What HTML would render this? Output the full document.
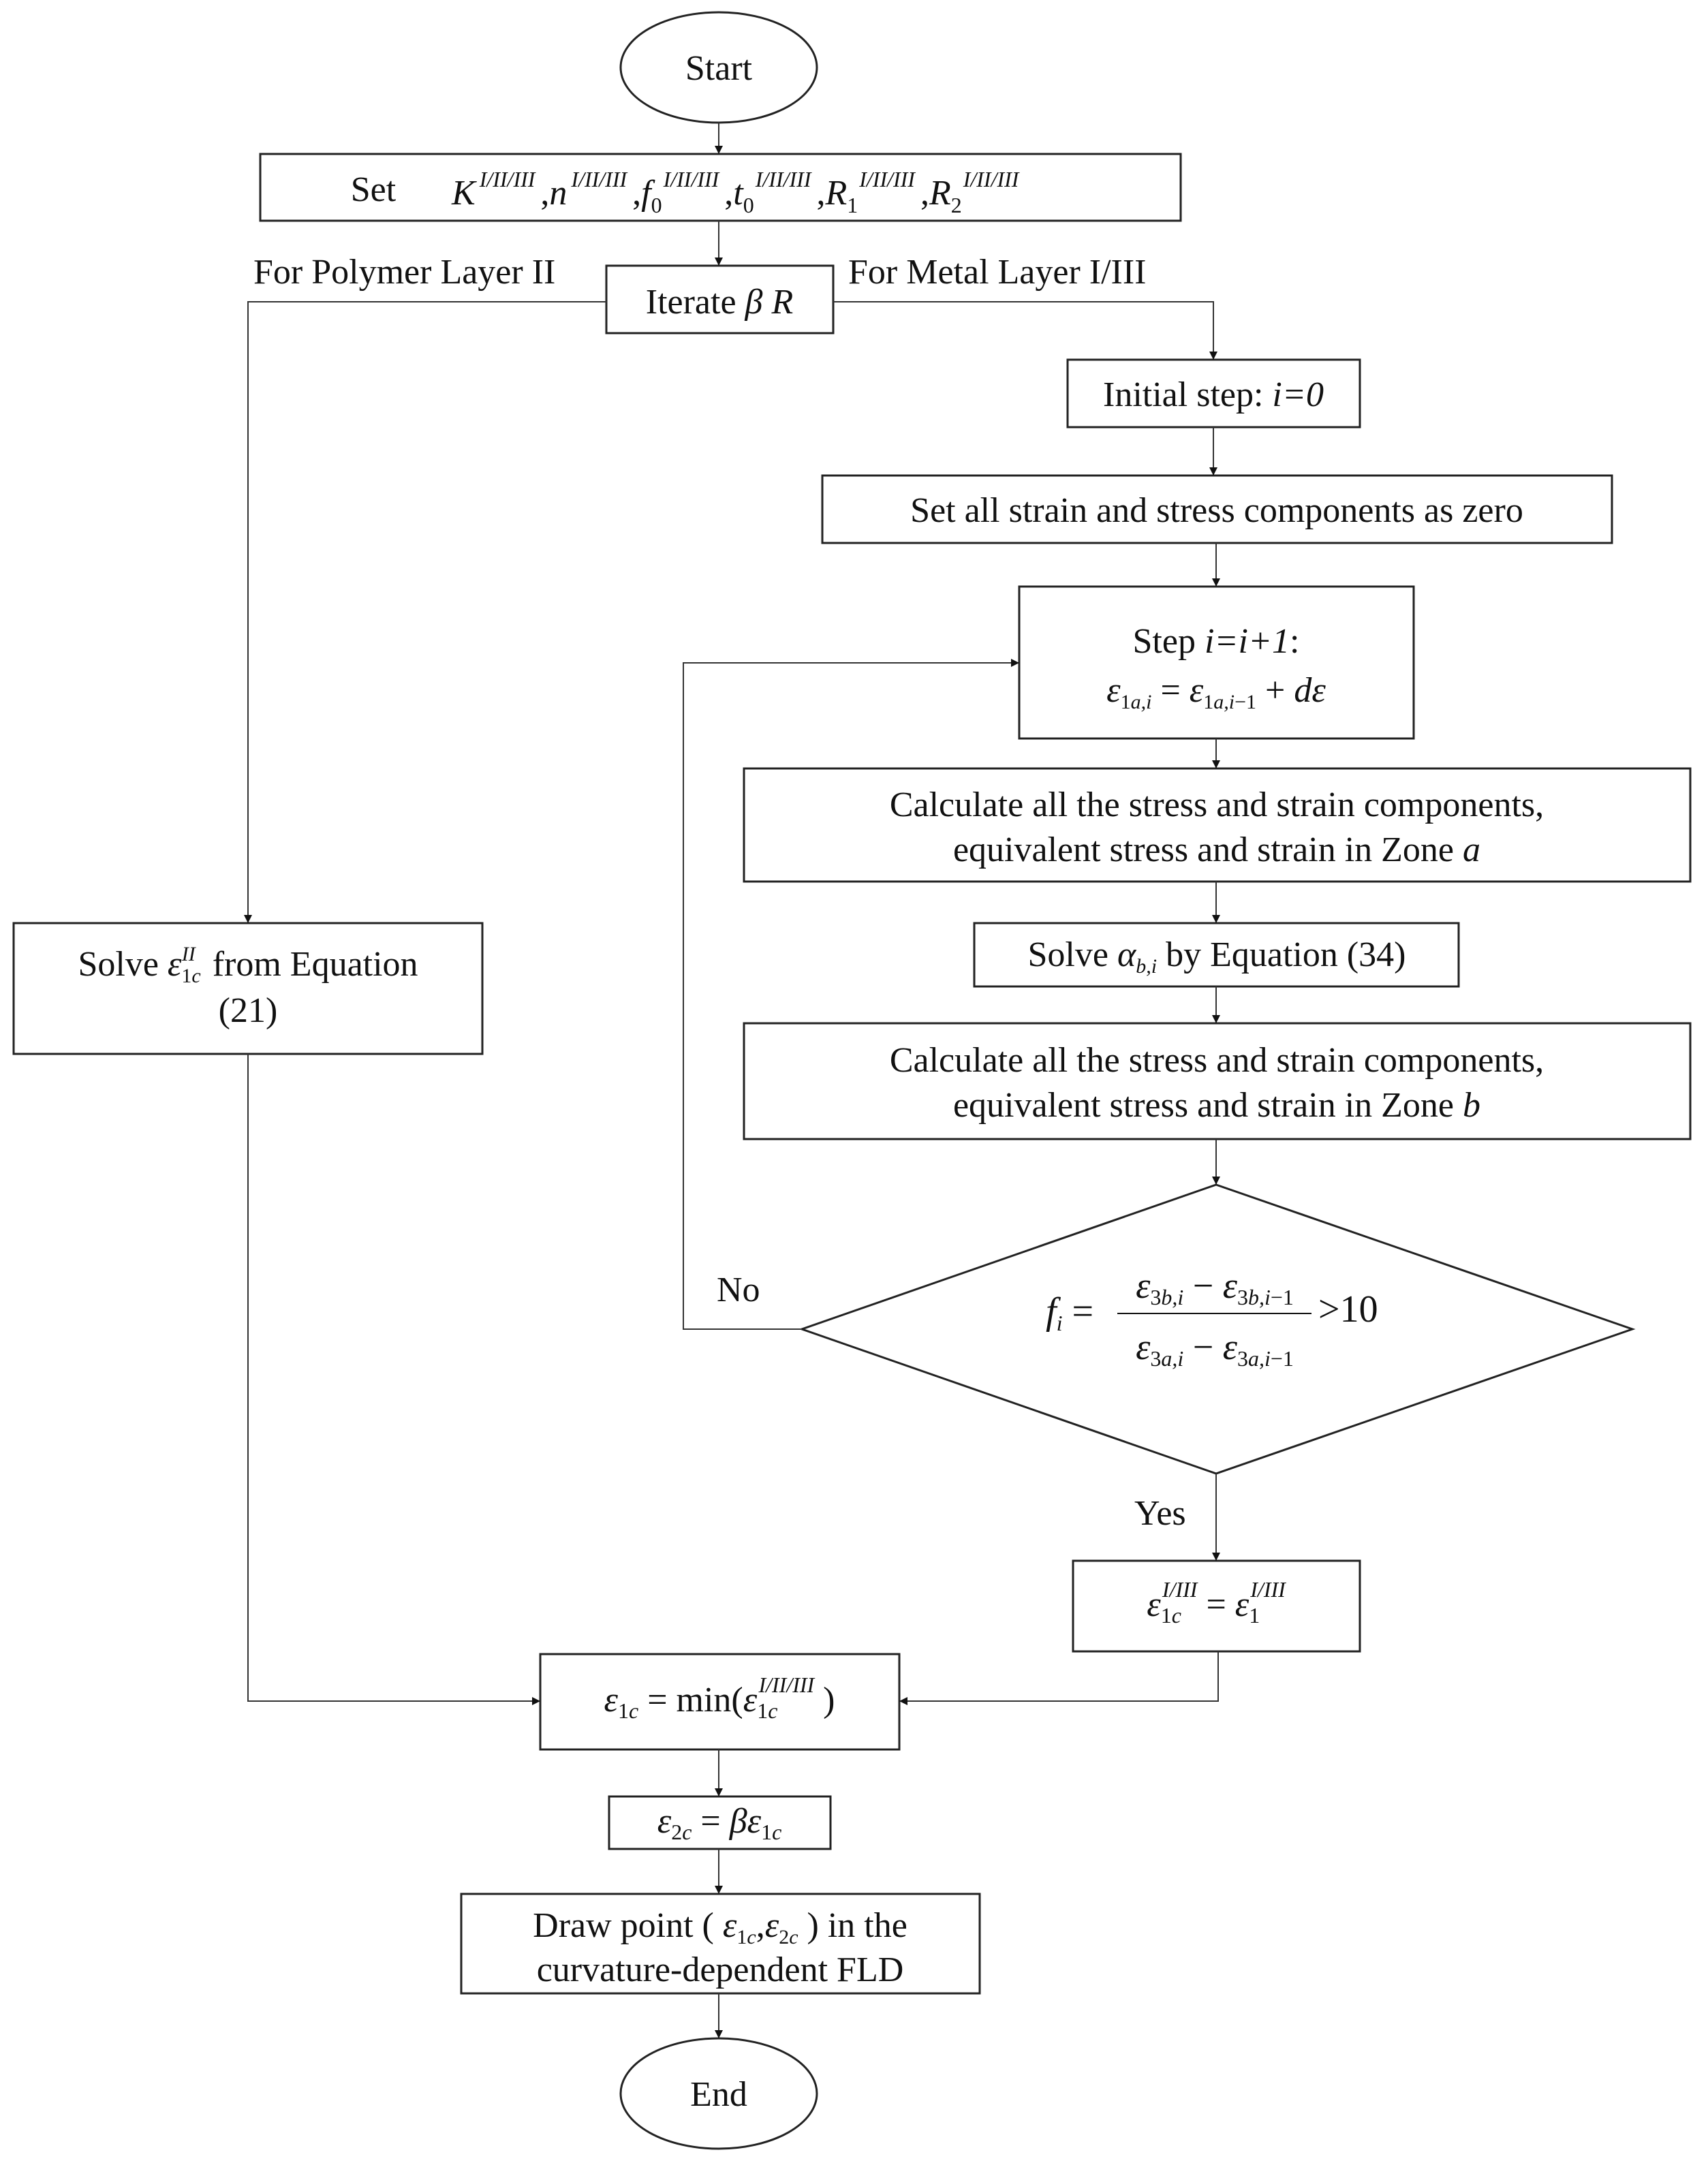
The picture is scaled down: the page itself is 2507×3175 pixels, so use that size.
<!DOCTYPE html>
<html><head><meta charset="utf-8"><style>
html,body{margin:0;padding:0;background:#fff}
svg{display:block}
text{font-family:"Liberation Serif",serif;fill:#111}
.t{font-size:52px}
.i{font-style:italic}
</style></head><body>
<svg width="2507" height="3175" viewBox="0 0 2507 3175" xmlns="http://www.w3.org/2000/svg">
<defs><marker id="a" markerWidth="12" markerHeight="12" refX="11" refY="6" orient="auto" markerUnits="userSpaceOnUse"><path d="M0,0 L12,6 L0,12 z" fill="#111"/></marker></defs>
<g fill="none" stroke="#222" stroke-width="3">
<ellipse cx="1055" cy="99" rx="144" ry="81"/>
<rect x="382" y="226" width="1351" height="98"/>
<rect x="890" y="390" width="333" height="99"/>
<rect x="1567" y="528" width="429" height="99"/>
<rect x="1207" y="698" width="1159" height="99"/>
<rect x="1496" y="861" width="579" height="223"/>
<rect x="1092" y="1128" width="1389" height="166"/>
<rect x="1430" y="1355" width="711" height="93"/>
<rect x="1092" y="1502" width="1389" height="170"/>
<polygon points="1785,1739 2396,1951 1785,2163 1177,1951"/>
<rect x="20" y="1355" width="688" height="192"/>
<rect x="1575" y="2291" width="421" height="133"/>
<rect x="793" y="2428" width="527" height="140"/>
<rect x="894" y="2637" width="325" height="77"/>
<rect x="677" y="2780" width="761" height="146"/>
<ellipse cx="1055" cy="3073" rx="144" ry="81"/>
</g>
<g fill="none" stroke="#333" stroke-width="2">
<line x1="1055" y1="180" x2="1055" y2="225" marker-end="url(#a)"/>
<line x1="1055" y1="324" x2="1055" y2="389" marker-end="url(#a)"/>
<polyline points="890,443 364,443 364,1354" marker-end="url(#a)"/>
<polyline points="1223,443 1781,443 1781,527" marker-end="url(#a)"/>
<line x1="1781" y1="627" x2="1781" y2="697" marker-end="url(#a)"/>
<line x1="1785" y1="797" x2="1785" y2="860" marker-end="url(#a)"/>
<line x1="1785" y1="1084" x2="1785" y2="1127" marker-end="url(#a)"/>
<line x1="1785" y1="1294" x2="1785" y2="1354" marker-end="url(#a)"/>
<line x1="1785" y1="1448" x2="1785" y2="1501" marker-end="url(#a)"/>
<line x1="1785" y1="1672" x2="1785" y2="1738" marker-end="url(#a)"/>
<polyline points="1177,1951 1003,1951 1003,973 1495,973" marker-end="url(#a)"/>
<line x1="1785" y1="2163" x2="1785" y2="2290" marker-end="url(#a)"/>
<polyline points="364,1547 364,2497 792,2497" marker-end="url(#a)"/>
<polyline points="1788,2424 1788,2497 1321,2497" marker-end="url(#a)"/>
<line x1="1055" y1="2568" x2="1055" y2="2636" marker-end="url(#a)"/>
<line x1="1055" y1="2714" x2="1055" y2="2779" marker-end="url(#a)"/>
<line x1="1055" y1="2926" x2="1055" y2="2991" marker-end="url(#a)"/>
</g>
<g class="t">
<text x="1055" y="117" text-anchor="middle">Start</text>
<text x="1055" y="3091" text-anchor="middle">End</text>
<text x="548" y="295" text-anchor="middle">Set</text>
<text x="663" y="300"><tspan class="i">K</tspan><tspan font-size="32" class="i" dx="6" dy="-26">I/II/III</tspan><tspan dx="8" dy="26">,</tspan><tspan class="i">n</tspan><tspan font-size="32" class="i" dx="6" dy="-26">I/II/III</tspan><tspan dx="8" dy="26">,</tspan><tspan class="i">f</tspan><tspan font-size="32" dy="12">0</tspan><tspan font-size="32" class="i" dx="2" dy="-38">I/II/III</tspan><tspan dx="8" dy="26">,</tspan><tspan class="i">t</tspan><tspan font-size="32" dy="12">0</tspan><tspan font-size="32" class="i" dx="2" dy="-38">I/II/III</tspan><tspan dx="8" dy="26">,</tspan><tspan class="i">R</tspan><tspan font-size="32" dy="12">1</tspan><tspan font-size="32" class="i" dx="2" dy="-38">I/II/III</tspan><tspan dx="8" dy="26">,</tspan><tspan class="i">R</tspan><tspan font-size="32" dy="12">2</tspan><tspan font-size="32" class="i" dx="2" dy="-38">I/II/III</tspan></text>
<text x="372" y="416">For Polymer Layer II</text>
<text x="1245" y="416">For Metal Layer I/III</text>
<text x="1056" y="460" text-anchor="middle">Iterate <tspan class="i">β  R</tspan></text>
<text x="1781" y="596" text-anchor="middle">Initial step: <tspan class="i">i=0</tspan></text>
<text x="1786" y="766" text-anchor="middle">Set all strain and stress components as zero</text>
<text x="1785" y="958" text-anchor="middle">Step <tspan class="i">i=i+1</tspan>:</text>
<text x="1785" y="1030" text-anchor="middle"><tspan class="i">ε</tspan><tspan font-size="30" dy="10">1<tspan class="i">a,i</tspan></tspan><tspan dy="-10"> = </tspan><tspan class="i">ε</tspan><tspan font-size="30" dy="10">1<tspan class="i">a,i</tspan>−1</tspan><tspan dy="-10"> + </tspan><tspan class="i">dε</tspan></text>
<text x="1786" y="1198" text-anchor="middle">Calculate all the stress and strain components,</text>
<text x="1786" y="1264" text-anchor="middle">equivalent stress and strain in Zone <tspan class="i">a</tspan></text>
<text x="1786" y="1418" text-anchor="middle">Solve   <tspan class="i">α</tspan><tspan font-size="30" class="i" dy="10">b,i</tspan><tspan dy="-10">  by Equation (34)</tspan></text>
<text x="1786" y="1573" text-anchor="middle">Calculate all the stress and strain components,</text>
<text x="1786" y="1639" text-anchor="middle">equivalent stress and strain in Zone <tspan class="i">b</tspan></text>
<text x="1052" y="1910">No</text>
<text x="1665" y="2238">Yes</text>
<text x="1535" y="1943" font-size="56"><tspan class="i">f</tspan><tspan font-size="32" class="i" dy="10">i</tspan><tspan dy="-10"> =</tspan></text>
<line x1="1640" y1="1928" x2="1925" y2="1928" stroke="#111" stroke-width="2"/>
<text x="1783" y="1905" text-anchor="middle" font-size="54"><tspan class="i">ε</tspan><tspan font-size="32" dy="10">3<tspan class="i">b,i</tspan></tspan><tspan dy="-10"> − </tspan><tspan class="i">ε</tspan><tspan font-size="32" dy="10">3<tspan class="i">b,i</tspan>−1</tspan></text>
<text x="1783" y="1995" text-anchor="middle" font-size="54"><tspan class="i">ε</tspan><tspan font-size="32" dy="10">3<tspan class="i">a,i</tspan></tspan><tspan dy="-10"> − </tspan><tspan class="i">ε</tspan><tspan font-size="32" dy="10">3<tspan class="i">a,i</tspan>−1</tspan></text>
<text x="1935" y="1940" font-size="56">&gt;10</text>
<text x="364" y="1432" text-anchor="middle">Solve <tspan class="i">ε</tspan><tspan font-size="30" dy="10">1<tspan class="i">c</tspan></tspan><tspan font-size="30" class="i" dx="-28" dy="-32">II</tspan><tspan dx="12" dy="22">  from Equation</tspan></text>
<text x="364" y="1500" text-anchor="middle">(21)</text>
<text x="1785" y="2372" text-anchor="middle"><tspan class="i">ε</tspan><tspan font-size="32" dy="10">1<tspan class="i">c</tspan></tspan><tspan font-size="32" class="i" dx="-28" dy="-38">I/III</tspan><tspan dy="28"> = </tspan><tspan class="i">ε</tspan><tspan font-size="32" dy="10">1</tspan><tspan font-size="32" class="i" dx="-14" dy="-38">I/III</tspan></text>
<text x="1056" y="2512" text-anchor="middle"><tspan class="i">ε</tspan><tspan font-size="32" dy="10">1<tspan class="i">c</tspan></tspan><tspan dy="-10"> = min(</tspan><tspan class="i">ε</tspan><tspan font-size="32" dy="10">1<tspan class="i">c</tspan></tspan><tspan font-size="32" class="i" dx="-28" dy="-38">I/II/III</tspan><tspan dy="28"> )</tspan></text>
<text x="1056" y="2690" text-anchor="middle"><tspan class="i">ε</tspan><tspan font-size="32" dy="10">2<tspan class="i">c</tspan></tspan><tspan dy="-10"> = </tspan><tspan class="i">βε</tspan><tspan font-size="32" dy="10">1<tspan class="i">c</tspan></tspan></text>
<text x="1057" y="2843" text-anchor="middle">Draw point ( <tspan class="i">ε</tspan><tspan font-size="30" dy="10">1<tspan class="i">c</tspan></tspan><tspan dy="-10">,</tspan><tspan class="i">ε</tspan><tspan font-size="30" dy="10">2<tspan class="i">c</tspan></tspan><tspan dy="-10"> ) in the</tspan></text>
<text x="1057" y="2908" text-anchor="middle">curvature-dependent FLD</text>
</g>
</svg>
</body></html>
